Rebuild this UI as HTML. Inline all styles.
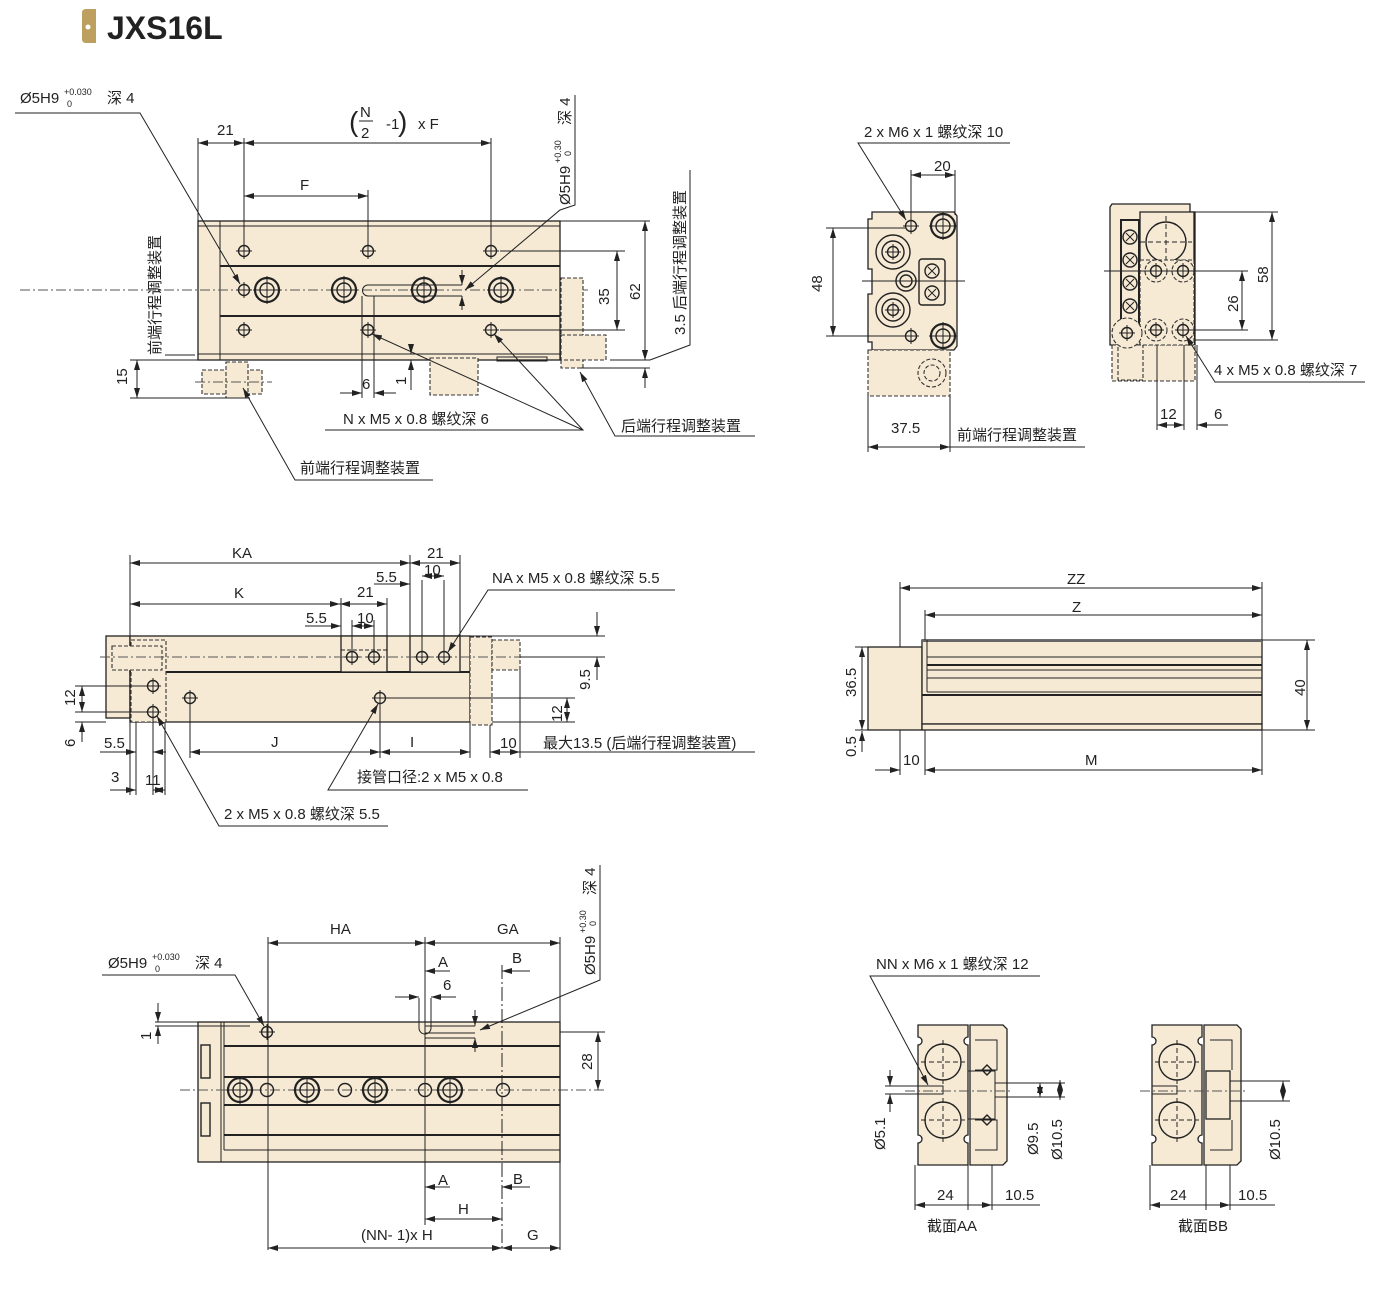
<!DOCTYPE html>
<html><head><meta charset="utf-8"><style>
html,body{margin:0;padding:0;background:#fff}
svg{display:block}
text{font-family:"Liberation Sans","Noto Sans CJK SC",sans-serif;font-size:15px;fill:#222}
.b{fill:#f6ead5;stroke:#222;stroke-width:1.3}
.l{stroke:#222;stroke-width:1;fill:none}
.t{stroke:#222;stroke-width:2;fill:none}
.d{stroke:#222;stroke-width:1;fill:none;marker-start:url(#a);marker-end:url(#a)}
.e{stroke:#222;stroke-width:1;fill:none;marker-end:url(#a)}
.c{stroke:#555;stroke-width:0.9;fill:none;stroke-dasharray:10 3 2 3}
.h{stroke:#333;stroke-width:1.1;fill:#f6ead5;stroke-dasharray:4 2}
.o{stroke:#222;stroke-width:1.4;fill:none}
.oo{stroke:#222;stroke-width:2.2;fill:none}
</style></head><body>
<svg width="1376" height="1311" viewBox="0 0 1376 1311" xmlns="http://www.w3.org/2000/svg">
<defs>
<marker id="a" viewBox="0 0 10 6" refX="10" refY="3" markerWidth="10" markerHeight="6" orient="auto-start-reverse" markerUnits="userSpaceOnUse"><path d="M0,0 L10,3 L0,6 z" fill="#222"/></marker>
<g id="sh"><circle r="5.5" class="o"/><path d="M-8,0H8M0,-8V8" class="l" stroke-width="0.8"/></g>
<g id="cb"><circle r="12" class="oo"/><circle r="7" class="o"/><path d="M-14,0H14M0,-14V14" class="l" stroke-width="0.8"/></g>
<g id="cx"><circle r="7" class="o"/><path d="M-4,-4L4,4M4,-4L-4,4" class="l"/></g>
</defs>

<!-- Title -->
<path d="M86,9 h10 v34 h-10 q-4,0 -4,-4 v-26 q0,-4 4,-4z" fill="#bd9f5f"/>
<circle cx="88" cy="27" r="2.5" fill="#fff"/>
<text x="107" y="39" style="font-size:32px;font-weight:bold;fill:#222">JXS16L</text>

<!-- ============ VIEW 1 top-left ============ -->
<rect x="198" y="221" width="362" height="139" class="b"/>
<line x1="220" y1="221" x2="220" y2="360" class="l"/>
<line x1="198" y1="226" x2="560" y2="226" class="l"/>
<line x1="220" y1="266" x2="560" y2="266" class="t"/>
<line x1="220" y1="316" x2="560" y2="316" class="t"/>
<line x1="198" y1="354" x2="560" y2="354" class="l"/>
<line x1="20" y1="290" x2="590" y2="290" class="c"/>
<use href="#sh" x="244" y="251"/><use href="#sh" x="368" y="251"/><use href="#sh" x="491" y="251"/>
<use href="#sh" x="244" y="330"/><use href="#sh" x="368" y="330"/><use href="#sh" x="491" y="330"/>
<use href="#sh" x="244" y="290"/>
<use href="#cb" x="267" y="290"/><use href="#cb" x="344" y="290"/><use href="#cb" x="424" y="290"/><use href="#cb" x="501" y="290"/>
<path d="M368,285 h94 M368,296 h94 M368,285 a5.5,5.5 0 0 0 0,11" class="l"/>
<rect x="561" y="278" width="22" height="90" class="h"/>
<rect x="561" y="335" width="45" height="25" class="h"/>
<rect x="430" y="358" width="48" height="37" class="h"/>
<rect x="497" y="357" width="50" height="4" class="l"/>
<rect x="202" y="370" width="60" height="24" class="h"/>
<rect x="226" y="362" width="22" height="36" class="h"/>
<line x1="195" y1="382" x2="272" y2="382" class="c"/>
<!-- dims view1 -->
<line x1="198" y1="138" x2="198" y2="221" class="l"/>
<line x1="244" y1="138" x2="244" y2="245" class="l"/>
<line x1="368" y1="190" x2="368" y2="245" class="l"/>
<line x1="491" y1="138" x2="491" y2="245" class="l"/>
<line x1="198" y1="143" x2="244" y2="143" class="d"/>
<line x1="244" y1="143" x2="491" y2="143" class="d"/>
<line x1="244" y1="196" x2="368" y2="196" class="d"/>
<text x="217" y="135">21</text>
<text x="300" y="190">F</text>
<text x="349" y="131" style="font-size:28px">(</text><text x="360" y="117">N</text><line x1="359" y1="121" x2="373" y2="121" class="l"/><text x="361" y="138">2</text>
<text x="386" y="129">-1</text><text x="398" y="131" style="font-size:28px">)</text><text x="418" y="129">x F</text>
<line x1="560" y1="221" x2="650" y2="221" class="l"/>
<line x1="500" y1="251" x2="625" y2="251" class="l"/>
<line x1="500" y1="330" x2="625" y2="330" class="l"/>
<line x1="610" y1="360" x2="650" y2="360" class="l"/>
<line x1="617" y1="251" x2="617" y2="330" class="d"/>
<line x1="645" y1="221" x2="645" y2="360" class="d"/>
<text transform="translate(609,305) rotate(-90)">35</text>
<text transform="translate(640,300) rotate(-90)">62</text>
<line x1="580" y1="368" x2="650" y2="368" class="l"/>
<line x1="645" y1="340" x2="645" y2="360" class="e"/>
<line x1="645" y1="388" x2="645" y2="368" class="e"/>
<polyline points="650,360 690,345 690,170" class="l"/>
<text transform="translate(685,335) rotate(-90)">3.5 后端行程调整装置</text>
<text transform="translate(160,355) rotate(-90)">前端行程调整装置</text>
<line x1="165" y1="355" x2="195" y2="355" class="l"/>
<line x1="130" y1="360" x2="198" y2="360" class="l"/>
<line x1="130" y1="398" x2="250" y2="398" class="l"/>
<line x1="137" y1="360" x2="137" y2="398" class="d"/>
<text transform="translate(127,385) rotate(-90)">15</text>
<line x1="362" y1="296" x2="362" y2="398" class="l"/>
<line x1="374" y1="296" x2="374" y2="398" class="l"/>
<line x1="340" y1="393" x2="362" y2="393" class="e"/>
<line x1="396" y1="393" x2="374" y2="393" class="e"/>
<text x="362" y="389">6</text>
<line x1="411" y1="345" x2="411" y2="354" class="e"/>
<line x1="411" y1="390" x2="411" y2="360" class="e"/>
<text transform="translate(406,385) rotate(-90)">1</text>
<line x1="462" y1="270" x2="462" y2="285" class="e"/>
<line x1="462" y1="310" x2="462" y2="296" class="e"/>
<text x="20" y="103">Ø5H9</text><text x="64" y="95" style="font-size:9px">+0.030</text><text x="67" y="107" style="font-size:9px">0</text><text x="107" y="103">深 4</text>
<polyline points="15,113 140,113 240,284" class="e"/>
<text transform="translate(570,205) rotate(-90)">Ø5H9</text><text transform="translate(561,163) rotate(-90)" style="font-size:9px">+0.30</text><text transform="translate(571,156) rotate(-90)" style="font-size:9px">0</text><text transform="translate(570,125) rotate(-90)">深 4</text>
<polyline points="575,95 575,205 560,210 465,290" class="e"/>
<text x="343" y="424">N x M5 x 0.8 螺纹深 6</text>
<polyline points="325,430 583,430 494,334" class="e"/>
<line x1="583" y1="430" x2="372" y2="334" class="e"/>
<text x="621" y="431">后端行程调整装置</text>
<polyline points="755,436 615,436 580,372" class="e"/>
<text x="300" y="473">前端行程调整装置</text>
<polyline points="433,480 295,480 243,388" class="e"/>

<!-- ============ VIEW end 1 ============ -->
<path d="M872,212 h82 l3,4 v130 l-3,4 h-82 v-8 h-4 v-48 h4 v-25 h-4 v-50 h4z" class="b"/>
<rect x="868" y="350" width="82" height="46" class="h"/>
<circle cx="932" cy="373" r="14" class="h"/><circle cx="932" cy="373" r="8" class="h"/>
<circle cx="893" cy="252" r="17" class="o"/><circle cx="893" cy="252" r="11" class="o"/><use href="#sh" x="893" y="252"/>
<circle cx="893" cy="310" r="17" class="o"/><circle cx="893" cy="310" r="11" class="o"/><use href="#sh" x="893" y="310"/>
<circle cx="906" cy="281" r="10" class="o"/><circle cx="906" cy="281" r="6" class="o"/>
<rect x="919" y="259" width="26" height="46" rx="3" class="o"/>
<use href="#cx" x="932" y="271"/><use href="#cx" x="932" y="293"/>
<use href="#sh" x="911" y="226"/><use href="#sh" x="911" y="336"/>
<use href="#cb" x="943" y="226"/><use href="#cb" x="943" y="336"/>
<line x1="862" y1="281" x2="965" y2="281" class="l"/>
<line x1="826" y1="228" x2="905" y2="228" class="l"/>
<line x1="826" y1="336" x2="905" y2="336" class="l"/>
<line x1="833" y1="228" x2="833" y2="336" class="d"/>
<text transform="translate(822,292) rotate(-90)">48</text>
<line x1="911" y1="170" x2="911" y2="220" class="l"/>
<line x1="955" y1="170" x2="955" y2="215" class="l"/>
<line x1="911" y1="175" x2="955" y2="175" class="d"/>
<text x="934" y="171">20</text>
<text x="864" y="137">2 x M6 x 1 螺纹深 10</text>
<polyline points="1010,143 858,143 906,220" class="e"/>
<line x1="868" y1="396" x2="868" y2="452" class="l"/>
<line x1="950" y1="396" x2="950" y2="452" class="l"/>
<line x1="868" y1="447" x2="950" y2="447" class="d"/>
<text x="891" y="433">37.5</text>
<line x1="950" y1="447" x2="1085" y2="447" class="l"/>
<text x="957" y="440">前端行程调整装置</text>

<!-- ============ VIEW end 2 ============ -->
<path d="M1112,204 h78 v8 h5 v133 h-85 v-138z" class="b"/>
<path d="M1140,212 h54 v133 h-54z" class="b"/>
<rect x="1112" y="345" width="83" height="36" class="h"/>
<rect x="1118" y="345" width="25" height="35" class="h"/>
<circle cx="1166" cy="242" r="20" class="o"/><circle cx="1166" cy="300" r="20" class="o"/>
<path d="M1166,216V268M1140,242H1192M1166,274V326M1140,300H1192" class="l" stroke-dasharray="5 3"/>
<rect x="1140" y="260" width="54" height="85" class="h" fill="none"/>
<circle cx="1156" cy="271" r="11" class="h"/><circle cx="1183" cy="271" r="11" class="h"/>
<circle cx="1156" cy="330" r="11" class="h"/><circle cx="1183" cy="330" r="11" class="h"/>
<use href="#sh" x="1156" y="271"/><use href="#sh" x="1183" y="271"/><use href="#sh" x="1156" y="330"/><use href="#sh" x="1183" y="330"/>
<rect x="1121" y="220" width="18" height="105" class="t" fill="#f6ead5"/>
<use href="#cx" x="1130" y="237"/><use href="#cx" x="1130" y="260"/><use href="#cx" x="1130" y="283"/><use href="#cx" x="1130" y="306"/>
<circle cx="1127" cy="333" r="15" class="h"/><use href="#sh" x="1127" y="333"/>
<line x1="1104" y1="271" x2="1248" y2="271" class="l"/>
<line x1="1195" y1="212" x2="1278" y2="212" class="l"/>
<line x1="1190" y1="330" x2="1248" y2="330" class="l"/>
<line x1="1195" y1="340" x2="1278" y2="340" class="l"/>
<line x1="1272" y1="212" x2="1272" y2="340" class="d"/>
<line x1="1242" y1="271" x2="1242" y2="330" class="d"/>
<text transform="translate(1268,283) rotate(-90)">58</text>
<text transform="translate(1238,312) rotate(-90)">26</text>
<text x="1214" y="375">4 x M5 x 0.8 螺纹深 7</text>
<polyline points="1365,382 1215,382 1186,336" class="e"/>
<line x1="1157" y1="345" x2="1157" y2="430" class="l"/>
<line x1="1184" y1="345" x2="1184" y2="430" class="l"/>
<line x1="1197" y1="345" x2="1197" y2="430" class="l"/>
<line x1="1157" y1="425" x2="1184" y2="425" class="d"/>
<line x1="1228" y1="425" x2="1197" y2="425" class="e"/>
<text x="1160" y="419">12</text><text x="1214" y="419">6</text>

<!-- ============ VIEW middle-left ============ -->
<rect x="106" y="636" width="24" height="82" class="b"/>
<rect x="130" y="636" width="340" height="36" class="b"/>
<rect x="130" y="672" width="340" height="50" class="b"/>
<line x1="130" y1="672" x2="470" y2="672" class="t"/>
<rect x="131" y="640" width="35" height="82" class="h"/>
<rect x="112" y="646" width="50" height="24" class="h"/>
<rect x="341" y="636" width="46" height="36" class="b"/>
<rect x="410" y="636" width="50" height="36" class="b"/>
<line x1="341" y1="650" x2="387" y2="650" class="l" stroke-dasharray="4 2"/>
<rect x="470" y="637" width="22" height="88" class="h"/>
<rect x="492" y="640" width="28" height="30" class="h"/>
<line x1="100" y1="657" x2="535" y2="657" class="c"/>
<use href="#sh" x="153" y="686"/><use href="#sh" x="153" y="712"/><use href="#sh" x="190" y="698"/><use href="#sh" x="380" y="698"/>
<use href="#sh" x="352" y="657"/><use href="#sh" x="374" y="657"/><use href="#sh" x="422" y="657"/><use href="#sh" x="444" y="657"/>
<!-- dims -->
<line x1="130" y1="555" x2="130" y2="636" class="l"/>
<line x1="410" y1="555" x2="410" y2="636" class="l"/>
<line x1="460" y1="555" x2="460" y2="636" class="l"/>
<line x1="341" y1="598" x2="341" y2="636" class="l"/>
<line x1="387" y1="598" x2="387" y2="636" class="l"/>
<line x1="130" y1="563" x2="410" y2="563" class="d"/>
<line x1="410" y1="563" x2="460" y2="563" class="d"/>
<line x1="130" y1="604" x2="340" y2="604" class="d"/>
<line x1="340" y1="604" x2="387" y2="604" class="d"/>
<text x="232" y="558">KA</text><text x="427" y="558">21</text>
<text x="234" y="598">K</text><text x="357" y="597">21</text>
<line x1="422" y1="580" x2="422" y2="650" class="l"/><line x1="444" y1="580" x2="444" y2="650" class="l"/>
<line x1="374" y1="584" x2="410" y2="584" class="e"/>
<line x1="422" y1="576" x2="444" y2="576" class="d"/>
<text x="376" y="582">5.5</text><text x="424" y="575">10</text>
<line x1="352" y1="620" x2="352" y2="650" class="l"/><line x1="374" y1="620" x2="374" y2="650" class="l"/>
<line x1="305" y1="626" x2="341" y2="626" class="e"/>
<line x1="352" y1="626" x2="374" y2="626" class="d"/>
<text x="306" y="623">5.5</text><text x="357" y="623">10</text>
<text x="492" y="583">NA x M5 x 0.8 螺纹深 5.5</text>
<polyline points="675,590 488,590 448,652" class="e"/>
<line x1="460" y1="636" x2="605" y2="636" class="l"/>
<line x1="520" y1="657" x2="605" y2="657" class="l"/>
<line x1="597" y1="612" x2="597" y2="636" class="e"/>
<line x1="597" y1="680" x2="597" y2="657" class="e"/>
<text transform="translate(590,690) rotate(-90)">9.5</text>
<line x1="385" y1="698" x2="575" y2="698" class="l"/>
<line x1="492" y1="722" x2="575" y2="722" class="l"/>
<line x1="567" y1="698" x2="567" y2="722" class="d"/>
<text transform="translate(562,722) rotate(-90)">12</text>
<line x1="75" y1="686" x2="150" y2="686" class="l"/><line x1="75" y1="712" x2="150" y2="712" class="l"/>
<line x1="82" y1="686" x2="82" y2="712" class="d"/>
<text transform="translate(75,706) rotate(-90)">12</text>
<line x1="75" y1="722" x2="106" y2="722" class="l"/>
<line x1="82" y1="742" x2="82" y2="722" class="e"/>
<text transform="translate(75,747) rotate(-90)">6</text>
<line x1="130" y1="722" x2="130" y2="795" class="l"/>
<line x1="136" y1="722" x2="136" y2="795" class="l"/>
<line x1="153" y1="718" x2="153" y2="795" class="l"/>
<line x1="165" y1="722" x2="165" y2="795" class="l"/>
<line x1="190" y1="704" x2="190" y2="758" class="l"/>
<line x1="380" y1="704" x2="380" y2="758" class="l"/>
<line x1="470" y1="725" x2="470" y2="758" class="l"/>
<line x1="490" y1="725" x2="490" y2="758" class="l"/>
<line x1="520" y1="670" x2="520" y2="758" class="l"/>
<line x1="100" y1="752" x2="136" y2="752" class="e"/>
<line x1="166" y1="752" x2="153" y2="752" class="e"/>
<line x1="190" y1="752" x2="380" y2="752" class="d"/>
<line x1="380" y1="752" x2="470" y2="752" class="d"/>
<line x1="490" y1="752" x2="520" y2="752" class="d"/>
<line x1="520" y1="752" x2="755" y2="752" class="l"/>
<text x="104" y="748">5.5</text><text x="271" y="747">J</text><text x="410" y="747">I</text><text x="500" y="748">10</text>
<text x="543" y="748">最大13.5 (后端行程调整装置)</text>
<line x1="110" y1="790" x2="136" y2="790" class="e"/>
<line x1="153" y1="790" x2="165" y2="790" class="d"/>
<text x="111" y="782">3</text><text x="145" y="785">11</text>
<text x="357" y="782">接管口径:2 x M5 x 0.8</text>
<polyline points="528,790 328,790 378,704" class="e"/>
<text x="224" y="819">2 x M5 x 0.8 螺纹深 5.5</text>
<polyline points="388,826 219,826 157,716" class="e"/>

<!-- ============ VIEW middle-right ============ -->
<rect x="868" y="647" width="54" height="83" class="b"/>
<rect x="922" y="640" width="340" height="84" class="b"/>
<rect x="922" y="724" width="340" height="6" class="b"/>
<line x1="922" y1="641" x2="1262" y2="641" stroke="#666" stroke-width="2"/>
<line x1="927" y1="657" x2="1262" y2="657" class="l"/>
<line x1="927" y1="665" x2="1262" y2="665" class="t"/>
<line x1="927" y1="670" x2="1262" y2="670" class="l"/>
<line x1="927" y1="678" x2="1262" y2="678" class="l"/>
<line x1="927" y1="692" x2="1262" y2="692" class="l"/>
<line x1="922" y1="695" x2="1262" y2="695" class="t"/>
<line x1="927" y1="640" x2="927" y2="692" class="l"/>
<line x1="900" y1="582" x2="900" y2="647" class="l"/>
<line x1="925" y1="610" x2="925" y2="640" class="l"/>
<line x1="1262" y1="582" x2="1262" y2="640" class="l"/>
<line x1="900" y1="588" x2="1262" y2="588" class="d"/>
<line x1="925" y1="615" x2="1262" y2="615" class="d"/>
<text x="1067" y="584">ZZ</text><text x="1072" y="612">Z</text>
<line x1="855" y1="647" x2="920" y2="647" class="l"/>
<line x1="855" y1="730" x2="920" y2="730" class="l"/>
<line x1="862" y1="647" x2="862" y2="730" class="d"/>
<line x1="862" y1="752" x2="862" y2="731" class="e"/>
<text transform="translate(856,697) rotate(-90)">36.5</text>
<text transform="translate(856,757) rotate(-90)">0.5</text>
<line x1="1262" y1="640" x2="1315" y2="640" class="l"/><line x1="1262" y1="730" x2="1315" y2="730" class="l"/>
<line x1="1307" y1="640" x2="1307" y2="730" class="d"/>
<text transform="translate(1305,696) rotate(-90)">40</text>
<line x1="900" y1="730" x2="900" y2="775" class="l"/>
<line x1="925" y1="730" x2="925" y2="775" class="l"/>
<line x1="1262" y1="730" x2="1262" y2="775" class="l"/>
<line x1="875" y1="770" x2="900" y2="770" class="e"/>
<line x1="925" y1="770" x2="1262" y2="770" class="d"/>
<text x="903" y="765">10</text><text x="1085" y="765">M</text>

<!-- ============ VIEW bottom-left ============ -->
<rect x="198" y="1022" width="362" height="140" class="b"/>
<line x1="221" y1="1022" x2="221" y2="1162" class="l"/>
<line x1="224" y1="1022" x2="224" y2="1150" class="l"/>
<line x1="224" y1="1046" x2="560" y2="1046" class="t"/>
<line x1="224" y1="1077" x2="560" y2="1077" class="t"/>
<line x1="224" y1="1105" x2="560" y2="1105" class="t"/>
<line x1="224" y1="1135" x2="560" y2="1135" class="t"/>
<line x1="224" y1="1150" x2="560" y2="1150" class="l"/>
<rect x="201" y="1045" width="9" height="33" class="o" fill="#f6ead5"/>
<rect x="201" y="1103" width="9" height="33" class="o" fill="#f6ead5"/>
<line x1="180" y1="1090" x2="605" y2="1090" class="c"/>
<use href="#cb" x="240" y="1090"/><use href="#cb" x="307" y="1090"/><use href="#cb" x="375" y="1090"/><use href="#cb" x="450" y="1090"/>
<circle cx="267" cy="1090" r="6.5" class="o"/><circle cx="345" cy="1090" r="6.5" class="o"/><circle cx="425" cy="1090" r="6.5" class="o"/><circle cx="503" cy="1090" r="6.5" class="o"/>
<use href="#sh" x="267" y="1032"/>
<path d="M419,1028 a6,6 0 0 0 12,0 M419,1028 v-30 M431,1028 v-30 M425,1038 h50 M425,1033 h50 M425,1026 h50" class="l"/>
<line x1="268" y1="937" x2="268" y2="1250" class="l"/>
<line x1="425" y1="937" x2="425" y2="1225" class="l"/>
<line x1="560" y1="937" x2="560" y2="1250" class="l"/>
<line x1="502" y1="965" x2="502" y2="1250" class="l" stroke="#666" stroke-dasharray="14 3 2 3"/>
<line x1="268" y1="943" x2="425" y2="943" class="d"/>
<line x1="425" y1="943" x2="560" y2="943" class="d"/>
<text x="330" y="934">HA</text><text x="497" y="934">GA</text>
<line x1="450" y1="971" x2="425" y2="971" class="e"/><text x="438" y="967">A</text>
<line x1="530" y1="971" x2="502" y2="971" class="e"/><text x="512" y="963">B</text>
<line x1="395" y1="997" x2="419" y2="997" class="e"/>
<line x1="456" y1="997" x2="431" y2="997" class="e"/>
<text x="443" y="990">6</text>
<line x1="475" y1="1010" x2="475" y2="1026" class="e"/>
<line x1="475" y1="1052" x2="475" y2="1038" class="e"/>
<line x1="155" y1="1022" x2="198" y2="1022" class="l"/>
<line x1="155" y1="1026" x2="250" y2="1026" class="l"/>
<line x1="158" y1="1003" x2="158" y2="1022" class="e"/>
<line x1="158" y1="1044" x2="158" y2="1026" class="e"/>
<text transform="translate(151,1040) rotate(-90)">1</text>
<line x1="560" y1="1032" x2="605" y2="1032" class="l"/>
<line x1="598" y1="1032" x2="598" y2="1090" class="d"/>
<text transform="translate(592,1070) rotate(-90)">28</text>
<text x="108" y="968">Ø5H9</text><text x="152" y="960" style="font-size:9px">+0.030</text><text x="155" y="972" style="font-size:9px">0</text><text x="195" y="968">深 4</text>
<polyline points="102,975 235,975 264,1026" class="e"/>
<text transform="translate(595,975) rotate(-90)">Ø5H9</text><text transform="translate(586,933) rotate(-90)" style="font-size:9px">+0.30</text><text transform="translate(596,926) rotate(-90)" style="font-size:9px">0</text><text transform="translate(595,895) rotate(-90)">深 4</text>
<polyline points="600,865 600,980 480,1030" class="e"/>
<line x1="450" y1="1187" x2="425" y2="1187" class="e"/><text x="438" y="1185">A</text>
<line x1="530" y1="1187" x2="502" y2="1187" class="e"/><text x="513" y="1184">B</text>
<line x1="425" y1="1219" x2="502" y2="1219" class="d"/><text x="458" y="1214">H</text>
<line x1="268" y1="1248" x2="502" y2="1248" class="d"/>
<line x1="502" y1="1248" x2="560" y2="1248" class="d"/>
<text x="361" y="1240">(NN- 1)x H</text><text x="527" y="1240">G</text>

<!-- ============ Section AA ============ -->
<path d="M918,1025 h50 v12 a4,4 0 0 0 0,8 v90 a4,4 0 0 0 0,8 v22 h-50 v-22 a4,4 0 0 0 0,-8 v-90 a4,4 0 0 0 0,-8z" class="b"/>
<path d="M970,1025 h33 l4,4 v132 l-4,4 h-33z" class="b"/>
<path d="M975,1040 h22 v30 h-22 M975,1120 h22 v30 h-22" class="l"/>
<rect x="968" y="1071" width="27" height="48" class="l"/>
<path d="M987,1065 l5,5 -5,5 -5,-5z M987,1115 l5,5 -5,5 -5,-5z" class="o"/>
<circle cx="943" cy="1062" r="18" class="o"/><circle cx="943" cy="1120" r="18" class="o"/>
<path d="M943,1040V1084M921,1062H965M943,1098V1142M921,1120H965" class="l" stroke-dasharray="5 3"/>
<rect x="918" y="1086" width="25" height="8" class="l"/>
<line x1="905" y1="1091" x2="1012" y2="1091" class="c"/>
<line x1="995" y1="1083" x2="1065" y2="1083" class="l"/>
<line x1="995" y1="1097" x2="1065" y2="1097" class="l"/>
<line x1="1040" y1="1083" x2="1040" y2="1097" class="d"/>
<line x1="1060" y1="1080" x2="1060" y2="1100" class="d"/>
<line x1="885" y1="1086" x2="925" y2="1086" class="l"/><line x1="885" y1="1094" x2="925" y2="1094" class="l"/>
<line x1="890" y1="1070" x2="890" y2="1086" class="e"/><line x1="890" y1="1112" x2="890" y2="1094" class="e"/>
<text transform="translate(885,1150) rotate(-90)">Ø5.1</text>
<text transform="translate(1038,1155) rotate(-90)">Ø9.5</text>
<text transform="translate(1062,1160) rotate(-90)">Ø10.5</text>
<text x="876" y="969">NN x M6 x 1 螺纹深 12</text>
<polyline points="1040,976 870,976 928,1085" class="e"/>
<line x1="915" y1="1165" x2="915" y2="1210" class="l"/>
<line x1="968" y1="1165" x2="968" y2="1210" class="l"/>
<line x1="992" y1="1165" x2="992" y2="1210" class="l"/>
<line x1="915" y1="1205" x2="992" y2="1205" class="d"/>
<line x1="992" y1="1205" x2="1040" y2="1205" class="l"/>
<text x="937" y="1200">24</text><text x="1005" y="1200">10.5</text>
<text x="927" y="1231">截面AA</text>

<!-- ============ Section BB ============ -->
<path d="M1152,1025 h50 v12 a4,4 0 0 0 0,8 v90 a4,4 0 0 0 0,8 v22 h-50 v-22 a4,4 0 0 0 0,-8 v-90 a4,4 0 0 0 0,-8z" class="b"/>
<path d="M1204,1025 h33 l4,4 v132 l-4,4 h-33z" class="b"/>
<path d="M1210,1040 h22 v30 M1210,1150 h22 v-30" class="l"/>
<rect x="1206" y="1071" width="24" height="48" class="b"/>
<circle cx="1177" cy="1062" r="18" class="o"/><circle cx="1177" cy="1120" r="18" class="o"/>
<path d="M1177,1040V1084M1155,1062H1199M1177,1098V1142M1155,1120H1199" class="l" stroke-dasharray="5 3"/>
<rect x="1152" y="1086" width="25" height="8" class="l"/>
<line x1="1140" y1="1091" x2="1245" y2="1091" class="c"/>
<line x1="1230" y1="1081" x2="1290" y2="1081" class="l"/>
<line x1="1230" y1="1101" x2="1290" y2="1101" class="l"/>
<line x1="1283" y1="1081" x2="1283" y2="1101" class="d"/>
<text transform="translate(1280,1160) rotate(-90)">Ø10.5</text>
<line x1="1150" y1="1165" x2="1150" y2="1210" class="l"/>
<line x1="1206" y1="1165" x2="1206" y2="1210" class="l"/>
<line x1="1230" y1="1165" x2="1230" y2="1210" class="l"/>
<line x1="1150" y1="1205" x2="1230" y2="1205" class="d"/>
<line x1="1230" y1="1205" x2="1275" y2="1205" class="l"/>
<text x="1170" y="1200">24</text><text x="1238" y="1200">10.5</text>
<text x="1178" y="1231">截面BB</text>
</svg>
</body></html>
